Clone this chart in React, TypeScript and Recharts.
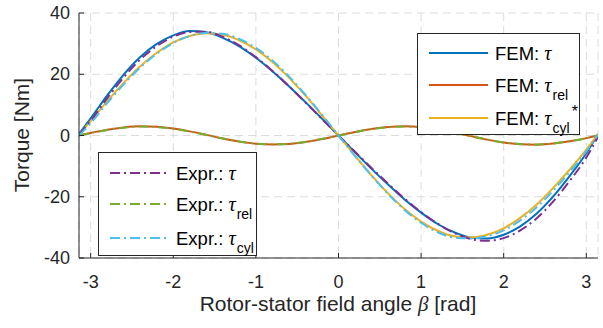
import React from "react";
import { LineChart, Line, XAxis, YAxis, CartesianGrid } from "recharts";

// rotor-stator angle beta [rad]
const beta = [
  -3.14, -3.0, -2.8, -2.6, -2.4, -2.2, -2.0, -1.8, -1.6, -1.4, -1.2, -1.0, -0.8,
  -0.6, -0.4, -0.2, 0, 0.2, 0.4, 0.6, 0.8, 1.0, 1.2, 1.4, 1.6, 1.8, 2.0, 2.2,
  2.4, 2.6, 2.8, 3.0, 3.14,
];

// FEM results [Nm]
const femTau = [
  0.6, 5.6, 13.1, 19.9, 25.6, 29.9, 32.7, 34.1, 33.7, 31.9, 29.1, 25.4, 21.0,
  16.1, 10.9, 5.5, 0, -5.5, -10.9, -16.0, -20.9, -25.2, -28.9, -31.6, -33.3,
  -33.6, -32.4, -29.7, -25.5, -19.9, -13.2, -5.8, 0.4,
];
const femRel = [
  0.1, 0.85, 1.9, 2.65, 3.0, 2.85, 2.3, 1.35, 0.2, -1.0, -2.0, -2.7, -2.95,
  -2.8, -2.15, -1.15, 0, 1.15, 2.15, 2.8, 3.0, 2.75, 2.05, 1.0, -0.2, -1.35,
  -2.3, -2.85, -3.0, -2.65, -1.9, -0.85, 0.1,
];
const femCyl = [
  0.4, 4.7, 11.2, 17.2, 22.6, 27.0, 30.4, 32.5, 33.4, 32.9, 31.1, 28.1, 24.0,
  18.9, 13.0, 6.6, 0, -6.6, -13.0, -18.9, -24.0, -28.1, -31.1, -32.9, -33.3,
  -32.4, -30.3, -26.9, -22.5, -17.1, -11.1, -4.6, 0.5,
];

// analytical expressions [Nm]
const exprTau = [
  0.3, 4.8, 12.2, 19.0, 24.8, 29.2, 32.3, 33.8, 33.9, 32.2, 29.4, 25.6, 21.1,
  16.1, 10.8, 5.4, 0, -5.3, -10.6, -15.7, -20.6, -25.0, -28.8, -31.8, -33.8,
  -34.4, -33.5, -31.0, -27.0, -21.5, -14.8, -7.2, -0.5,
];
const exprRel = [
  0, 0.8, 1.8, 2.55, 2.9, 2.75, 2.2, 1.3, 0.15, -1.0, -1.95, -2.65, -2.9, -2.7,
  -2.1, -1.1, 0, 1.1, 2.1, 2.7, 2.9, 2.65, 1.95, 0.95, -0.2, -1.35, -2.25, -2.8,
  -2.95, -2.6, -1.85, -0.85, 0,
];
const exprCyl = [
  0.0, 4.0, 10.6, 16.7, 22.2, 26.7, 30.2, 32.5, 33.5, 33.2, 31.5, 28.6, 24.5,
  19.3, 13.3, 6.8, 0, -6.7, -13.1, -19.1, -24.3, -28.5, -31.6, -33.3, -33.6,
  -32.9, -31.0, -27.7, -23.4, -18.0, -11.9, -5.2, 0.2,
];

const xTicks = [-3, -2, -1, 0, 1, 2, 3];
const yTicks = [-40, -20, 0, 20, 40];

const rows = beta.map((b, i) => ({
  beta: b,
  femTau: femTau[i],
  femRel: femRel[i],
  femCyl: femCyl[i],
  exprTau: exprTau[i],
  exprRel: exprRel[i],
  exprCyl: exprCyl[i],
}));

const FONT = '"Liberation Sans", Arial, sans-serif';
const SERIF = '"Liberation Serif", "DejaVu Serif", serif';
const AX = "#262626";
const DASHDOT = "10 4 2 4";

const C = {
  blue: "#0072BD",
  orange: "#D95319",
  yellow: "#EDB120",
  purple: "#7E2F8E",
  green: "#77AC30",
  cyan: "#4DBEEE",
};

function XTick({ x, y, payload }: any) {
  return (
    <g>
      <line x1={x} x2={x} y1={y} y2={y - 5} stroke={AX} />
      <text x={x} y={y + 30} textAnchor="middle" fontSize={18} fill={AX} fontFamily={FONT}>
        {payload.value}
      </text>
    </g>
  );
}

function YTick({ x, y, payload }: any) {
  return (
    <g>
      <line x1={x} x2={x + 5} y1={y} y2={y} stroke={AX} />
      <text x={x - 9} y={y + 6} textAnchor="end" fontSize={18} fill={AX} fontFamily={FONT}>
        {payload.value}
      </text>
    </g>
  );
}

const Tau = () => <span style={{ fontFamily: SERIF, fontStyle: "italic", fontSize: 20 }}>τ</span>;
const Sub = ({ t }: { t: string }) => (
  <span style={{ fontSize: 14, position: "relative", top: 8, marginLeft: 1 }}>{t}</span>
);

type Item = { color: string; dash?: string; label: React.ReactNode; y: number };

function LegendBox({ left, top, width, height, items }: { left: number; top: number; width: number; height: number; items: Item[] }) {
  return (
    <div
      style={{
        position: "absolute",
        left,
        top,
        width,
        height,
        boxSizing: "border-box",
        border: "1px solid #262626",
        background: "#fff",
        fontFamily: FONT,
        fontSize: 18.5,
        color: "#000",
      }}
    >
      {items.map((it, i) => (
        <div key={i} style={{ position: "absolute", left: 11, top: it.y - 12, height: 24, display: "flex", alignItems: "center", whiteSpace: "nowrap" }}>
          <svg width={60} height={6} style={{ marginRight: 6 }}>
            <line x1={0} x2={59} y1={3} y2={3} stroke={it.color} strokeWidth={2} strokeDasharray={it.dash} />
          </svg>
          <span>{it.label}</span>
        </div>
      ))}
    </div>
  );
}

export default function App() {
  return (
    <div style={{ position: "absolute", left: 0, top: 0, width: 603, height: 328, background: "#fff" }}>
      <LineChart width={603} height={328} data={rows} margin={{ top: 13, right: 5, bottom: 0, left: 19 }}>
        <CartesianGrid stroke="#dcdcdc" strokeDasharray="8 5" />
        <XAxis
          dataKey="beta"
          type="number"
          domain={[-Math.PI, Math.PI]}
          ticks={xTicks}
          allowDataOverflow
          height={70}
          tickSize={0}
          tickMargin={0}
          tickLine={false}
          tick={<XTick />}
          axisLine={{ stroke: AX }}
        />
        <YAxis
          type="number"
          domain={[-40, 40]}
          ticks={yTicks}
          width={60}
          tickSize={0}
          tickMargin={0}
          tickLine={false}
          tick={<YTick />}
          axisLine={{ stroke: AX }}
        />
        <Line dataKey="femTau" stroke={C.blue} strokeWidth={2} dot={false} type="monotone" isAnimationActive={false} />
        <Line dataKey="femRel" stroke={C.orange} strokeWidth={2} dot={false} type="monotone" isAnimationActive={false} />
        <Line dataKey="femCyl" stroke={C.yellow} strokeWidth={2} dot={false} type="monotone" isAnimationActive={false} />
        <Line dataKey="exprTau" stroke={C.purple} strokeWidth={2} strokeDasharray={DASHDOT} dot={false} type="monotone" isAnimationActive={false} />
        <Line dataKey="exprRel" stroke={C.green} strokeWidth={2} strokeDasharray={DASHDOT} dot={false} type="monotone" isAnimationActive={false} />
        <Line dataKey="exprCyl" stroke={C.cyan} strokeWidth={2} strokeDasharray={DASHDOT} dot={false} type="monotone" isAnimationActive={false} />
      </LineChart>

      <div
        style={{
          position: "absolute",
          left: 338,
          top: 304,
          transform: "translate(-50%, -50%)",
          whiteSpace: "nowrap",
          fontFamily: FONT,
          fontSize: 21,
          color: AX,
        }}
      >
        Rotor-stator field angle <span style={{ fontFamily: SERIF, fontStyle: "italic" }}>β</span> [rad]
      </div>
      <div
        style={{
          position: "absolute",
          left: 22,
          top: 135,
          transform: "translate(-50%, -50%) rotate(-90deg)",
          whiteSpace: "nowrap",
          fontFamily: FONT,
          fontSize: 21,
          color: AX,
        }}
      >
        Torque [Nm]
      </div>

      <LegendBox
        left={417}
        top={33}
        width={163}
        height={102}
        items={[
          { color: C.blue, label: <>FEM: <Tau /></>, y: 19 },
          { color: C.orange, label: <>FEM: <Tau /><Sub t="rel" /></>, y: 51 },
          {
            color: C.yellow,
            label: (
              <>
                FEM: <Tau /><Sub t="cyl" />
                <span style={{ fontSize: 16, position: "relative", top: -8, marginLeft: 2 }}>*</span>
              </>
            ),
            y: 84,
          },
        ]}
      />
      <LegendBox
        left={98}
        top={152}
        width={159}
        height={104}
        items={[
          { color: C.purple, dash: DASHDOT, label: <>Expr.: <Tau /></>, y: 20 },
          { color: C.green, dash: DASHDOT, label: <>Expr.: <Tau /><Sub t="rel" /></>, y: 51 },
          { color: C.cyan, dash: DASHDOT, label: <>Expr.: <Tau /><Sub t="cyl" /></>, y: 85 },
        ]}
      />
    </div>
  );
}
